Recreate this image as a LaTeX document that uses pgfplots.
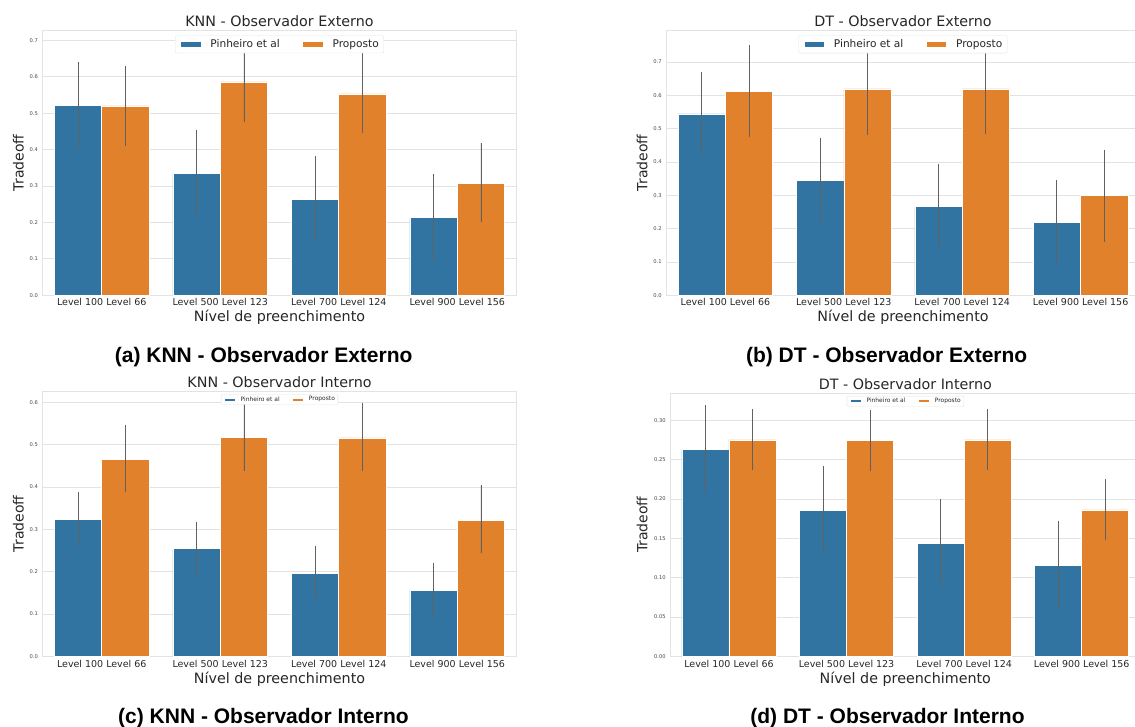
\documentclass[border=0pt]{standalone}
\usepackage{fontspec}
\setmainfont{DejaVu Sans}
\newfontfamily\capfont{Liberation Sans}
\usepackage{pgfplots}
\usepackage{pgfplotstable}
\pgfplotsset{compat=1.18}
\definecolor{sbblue}{HTML}{3274A1}
\definecolor{sborange}{HTML}{E1812C}
\definecolor{txt}{HTML}{262626}
\definecolor{gridc}{HTML}{E3E3E3}

% x y lo hi  (lo/hi = ends of the error bar)
\pgfplotstableread{
x y lo hi
0 0.522 0.406 0.641
1 0.334 0.218 0.453
2 0.264 0.147 0.382
3 0.213 0.098 0.332
}\KEP
\pgfplotstableread{
x y lo hi
0 0.520 0.411 0.630
1 0.586 0.477 0.695
2 0.553 0.445 0.665
3 0.307 0.200 0.418
}\KEQ
\pgfplotstableread{
x y lo hi
0 0.544 0.421 0.670
1 0.344 0.221 0.471
2 0.266 0.143 0.393
3 0.219 0.094 0.345
}\DEP
\pgfplotstableread{
x y lo hi
0 0.612 0.474 0.751
1 0.619 0.481 0.757
2 0.619 0.483 0.757
3 0.299 0.161 0.437
}\DEQ
\pgfplotstableread{
x y lo hi
0 0.323 0.261 0.387
1 0.254 0.191 0.317
2 0.195 0.133 0.260
3 0.155 0.094 0.221
}\KIP
\pgfplotstableread{
x y lo hi
0 0.465 0.387 0.546
1 0.517 0.438 0.598
2 0.516 0.438 0.598
3 0.321 0.243 0.404
}\KIQ
\pgfplotstableread{
x y lo hi
0 0.263 0.208 0.319
1 0.185 0.131 0.242
2 0.144 0.089 0.200
3 0.116 0.060 0.172
}\DIP
\pgfplotstableread{
x y lo hi
0 0.275 0.237 0.314
1 0.274 0.236 0.313
2 0.275 0.237 0.314
3 0.186 0.148 0.225
}\DIQ

\pgfplotsset{
  sbstyle/.style={
    scale only axis,
    xmin=-0.5, xmax=3.5, ymin=0,
    xtick={0,1,2,3},
    xticklabels={Level 100 Level 66, Level 500 Level 123, Level 700 Level 124, Level 900 Level 156},
    major tick length=0pt,
    axis line style={gridc, line width=0.8pt},
    ymajorgrids, grid style={gridc, line width=0.8pt},
    xticklabel style={font=\fontsize{9.5}{11}\selectfont, text=txt, anchor=base, yshift=-10.7pt},
    yticklabel style={font=\fontsize{5.2}{6}\selectfont, text=txt!85, anchor=east, inner sep=0pt, xshift=-4.3pt,
      /pgf/number format/fixed, /pgf/number format/precision=1, /pgf/number format/fixed zerofill},
    /pgf/number format/assume math mode=true,
    every axis title/.style={at={(axis description cs:0.5,1)}, anchor=base, yshift=3.6pt,
      font=\fontsize{14.3}{16}\selectfont, text=txt},
    xlabel={Nível de preenchimento},
    ylabel={Tradeoff},
    every axis x label/.style={at={(axis description cs:0.5,0)}, anchor=base, yshift=-26.7pt,
      font=\fontsize{14.3}{16}\selectfont, text=txt},
    every axis y label/.style={rotate=90, anchor=base, font=\fontsize{14}{16}\selectfont, text=txt},
    ybar, bar width=0.4,
    error bars/y dir=both, error bars/y explicit, error bars/error mark=none,
    error bars/error bar style={line width=0.9pt, black!62},
    legend columns=2,
  },
  legbig/.style={
    legend style={at={(axis description cs:0.5,1)}, anchor=north, yshift=-5pt,
      font=\fontsize{10.6}{12}\selectfont, text=txt, draw=gray!22, rounded corners=2pt, fill=white,
      inner xsep=5pt, inner ysep=1pt,
      nodes={inner xsep=0pt, inner ysep=3pt},
      /tikz/every even column/.append style={column sep=22.5pt}},
    legend image code/.code={\fill[##1, sharp corners] (0pt,-3.15pt) rectangle (20.4pt,3.15pt); \path (29.6pt,0pt);},
  },
  legsmall/.style={
    legend style={at={(axis description cs:0.5,1)}, anchor=north, yshift=-3pt,
      font=\fontsize{5.95}{7}\selectfont, text=txt, draw=gray!22, rounded corners=1pt, fill=white,
      inner xsep=3pt, inner ysep=0.5pt,
      nodes={inner xsep=0pt, inner ysep=1.5pt},
      /tikz/every even column/.append style={column sep=12.7pt}},
    legend image code/.code={\fill[##1, sharp corners] (0pt,-1.5pt) rectangle (10.9pt,1.5pt); \path (16pt,0pt);},
  },
  Pst/.style={fill=sbblue, draw=white, line width=0.6pt, bar shift=-0.2},
  Qst/.style={fill=sborange, draw=white, line width=0.6pt, bar shift=0.2},
}

\begin{document}
\begin{tikzpicture}
\useasboundingbox (0pt,0pt) rectangle (1135pt,726pt);
\clip (0pt,0pt) rectangle (1135pt,726pt);

% (a) KNN - Observador Externo
\begin{axis}[sbstyle, legbig,
  at={(42.5pt,430.7pt)}, anchor=south west, width=474pt, height=265pt,
  ymax=0.7275, ytick={0,0.1,...,0.7},
  ylabel style={at={(axis description cs:-0.0399,0.5)}},
  title={KNN - Observador Externo}]
\addplot[Pst] table[x=x, y=y, y error plus expr=\thisrow{hi}-\thisrow{y}, y error minus expr=\thisrow{y}-\thisrow{lo}] {\KEP};
\addplot[Qst] table[x=x, y=y, y error plus expr=\thisrow{hi}-\thisrow{y}, y error minus expr=\thisrow{y}-\thisrow{lo}] {\KEQ};
\legend{Pinheiro et al, Proposto}
\end{axis}

% (b) DT - Observador Externo
\begin{axis}[sbstyle, legbig,
  at={(666.2pt,430.7pt)}, anchor=south west, width=473.6pt, height=265pt,
  ymax=0.795, ytick={0,0.1,...,0.7},
  ylabel style={at={(axis description cs:-0.0395,0.5)}},
  title={DT - Observador Externo}]
\addplot[Pst] table[x=x, y=y, y error plus expr=\thisrow{hi}-\thisrow{y}, y error minus expr=\thisrow{y}-\thisrow{lo}] {\DEP};
\addplot[Qst] table[x=x, y=y, y error plus expr=\thisrow{hi}-\thisrow{y}, y error minus expr=\thisrow{y}-\thisrow{lo}] {\DEQ};
\legend{Pinheiro et al, Proposto}
\end{axis}

% (c) KNN - Observador Interno
\begin{axis}[sbstyle, legsmall,
  at={(42.5pt,69.7pt)}, anchor=south west, width=474pt, height=265pt,
  ymax=0.626, ytick={0,0.1,...,0.6},
  ylabel style={at={(axis description cs:-0.0399,0.5)}},
  title={KNN - Observador Interno}]
\addplot[Pst] table[x=x, y=y, y error plus expr=\thisrow{hi}-\thisrow{y}, y error minus expr=\thisrow{y}-\thisrow{lo}] {\KIP};
\addplot[Qst] table[x=x, y=y, y error plus expr=\thisrow{hi}-\thisrow{y}, y error minus expr=\thisrow{y}-\thisrow{lo}] {\KIQ};
\legend{Pinheiro et al, Proposto}
\end{axis}

% (d) DT - Observador Interno
\begin{axis}[sbstyle, legsmall,
  at={(670.2pt,69.7pt)}, anchor=south west, width=470.3pt, height=263.3pt,
  ymax=0.3347, ytick={0,0.05,...,0.31},
  yticklabel style={/pgf/number format/precision=2},
  ylabel style={at={(axis description cs:-0.0483,0.5)}},
  title={DT - Observador Interno}]
\addplot[Pst] table[x=x, y=y, y error plus expr=\thisrow{hi}-\thisrow{y}, y error minus expr=\thisrow{y}-\thisrow{lo}] {\DIP};
\addplot[Qst] table[x=x, y=y, y error plus expr=\thisrow{hi}-\thisrow{y}, y error minus expr=\thisrow{y}-\thisrow{lo}] {\DIQ};
\legend{Pinheiro et al, Proposto}
\end{axis}

% sub-figure captions
\node[anchor=base, font=\capfont\bfseries\fontsize{21}{24}\selectfont] at (263.7pt,363.7pt) {(a) KNN - Observador Externo};
\node[anchor=base, font=\capfont\bfseries\fontsize{21}{24}\selectfont] at (886.7pt,363.7pt) {(b) DT - Observador Externo};
\node[anchor=base, font=\capfont\bfseries\fontsize{21}{24}\selectfont] at (263.5pt,2.5pt) {(c) KNN - Observador Interno};
\node[anchor=base, font=\capfont\bfseries\fontsize{21}{24}\selectfont] at (887.5pt,2.5pt) {(d) DT - Observador Interno};
\end{tikzpicture}
\end{document}
